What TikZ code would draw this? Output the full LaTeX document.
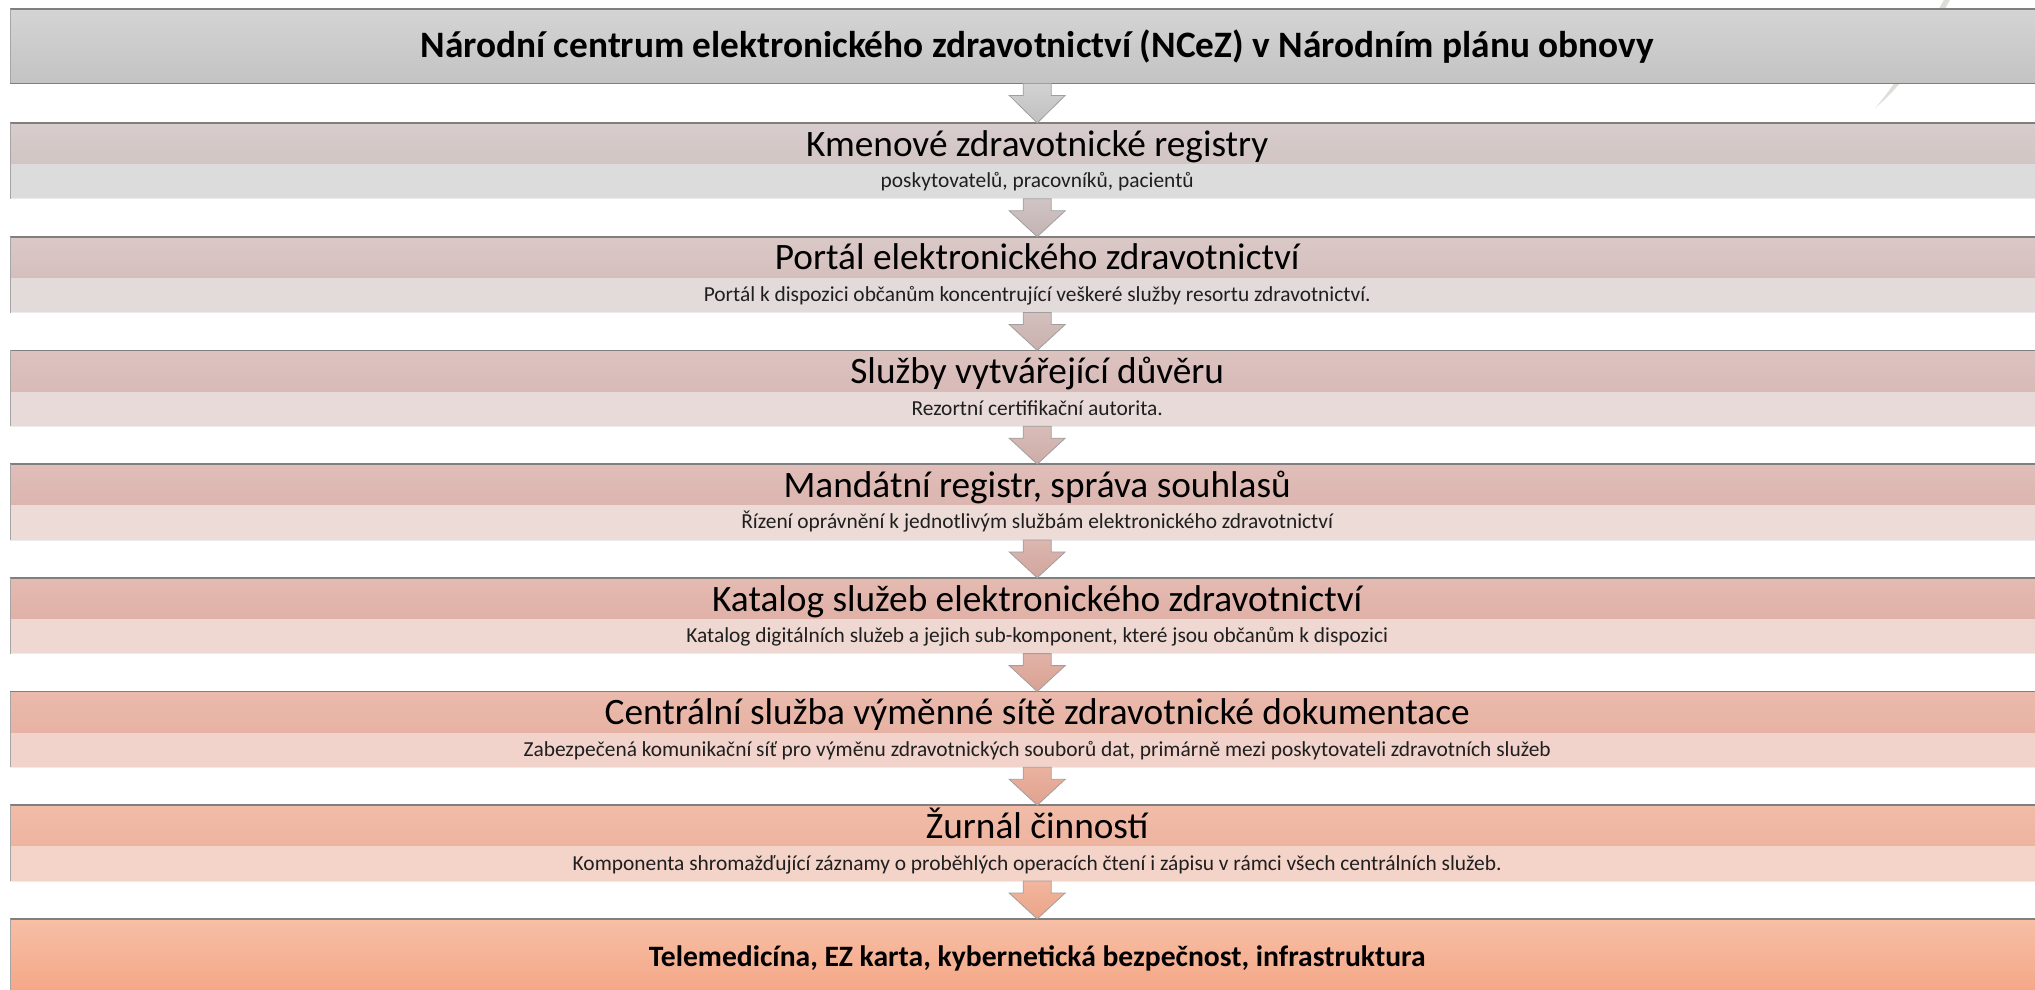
\documentclass[tikz,border=0pt]{standalone}
\usepackage{fontspec}
\setmainfont{Carlito}
\usetikzlibrary{calc}
\definecolor{bordc}{HTML}{7F7F7F}
\definecolor{wmark}{HTML}{DEDED8}
\tikzset{
  band/.style={rectangle, inner sep=0pt, minimum width=2054pt, anchor=north west},
  ttl/.style={band, minimum height=74pt, font=\bfseries\fontsize{37.3}{42}\selectfont},
  hdr/.style={band, minimum height=40.5pt, text height=28pt, text depth=2.5pt, font=\fontsize{37.3}{40}\selectfont},
  subrow/.style={band, minimum height=34.5pt, text height=15pt, text depth=2pt, font=\fontsize{21.4}{24}\selectfont, text=black!88},
  endbox/.style={band, minimum height=78pt, font=\bfseries\fontsize{29.6}{34}\selectfont},
  topline/.style={draw=bordc, line width=1.6pt},
  sideline/.style={draw=bordc!70, line width=1pt},
  botline/.style={draw=white!85!bordc, line width=0.8pt},
  blk/.style={draw=gray!75, line width=0.8pt},
}
\newcommand\blkarrow[3]{%
  \path[blk,#3] ($(#1.south)+(-14,0)$) -- ($(#1.south)+(14,0)$) -- ($(#1.south)+(14,12)$)
    -- ($(#1.south)+(28,12)$) -- (#2.north) -- ($(#1.south)+(-28,12)$)
    -- ($(#1.south)+(-14,12)$) -- cycle;}
\begin{document}
\begin{tikzpicture}[x=1pt,y=-1pt]
\useasboundingbox (0,0) rectangle (2035,989);
\clip (0,0) rectangle (2035,989);
% watermark stroke
\fill[wmark] (1945,-2) -- (1951,-2) .. controls (1930,35) and (1915,75) .. (1875,108)
   .. controls (1900,80) and (1922,38) .. (1945,-2) -- cycle;
% title
\node[ttl, top color={rgb,255:red,212;green,212;blue,212}, bottom color={rgb,255:red,195;green,195;blue,195}] (title) at (10,9)
  {Národní centrum elektronického zdravotnictví (NCeZ) v Národním plánu obnovy};
\draw[topline] (title.north west) -- (title.north east);
\draw[topline] (title.south west) -- (title.south east);
\draw[sideline] (title.north west) -- (title.south west);
% boxes
\def\mkbox#1#2#3#4#5#6#7{%
  \node[hdr, top color={rgb,255:#3}, bottom color={rgb,255:#4}] (h#1) at (10,#2) {#6};
  \node[subrow, fill={rgb,255:#5}] (s#1) at (h#1.south west) {#7};
  \draw[botline] (s#1.south west) -- (s#1.south east);
  \draw[topline] (h#1.north west) -- (h#1.north east);
  \draw[sideline] (h#1.north west) -- (s#1.south west);
}
\mkbox{1}{123}{red,215;green,205;blue,204}{red,210;green,197;blue,196}{red,220;green,220;blue,220}
  {Kmenové zdravotnické registry}{poskytovatelů, pracovníků, pacientů}
\mkbox{2}{236.7}{red,218;green,201;blue,199}{red,213;green,191;blue,189}{red,227;green,219;blue,218}
  {Portál elektronického zdravotnictví}{Portál k dispozici občanům koncentrující veškeré služby resortu zdravotnictví.}
\mkbox{3}{350.4}{red,220;green,195;blue,192}{red,216;green,186;blue,183}{red,232;green,218;blue,217}
  {Služby vytvářející důvěru}{Rezortní certifikační autorita.}
\mkbox{4}{464.1}{red,224;green,190;blue,185}{red,220;green,181;blue,175}{red,237;green,219;blue,215}
  {Mandátní registr, správa souhlasů}{Řízení oprávnění k jednotlivým službám elektronického zdravotnictví}
\mkbox{5}{577.8}{red,228;green,186;blue,177}{red,224;green,177;blue,167}{red,240;green,216;blue,210}
  {Katalog služeb elektronického zdravotnictví}{Katalog digitálních služeb a jejich sub-komponent, které jsou občanům k dispozici}
\mkbox{6}{691.5}{red,234;green,186;blue,172}{red,231;green,178;blue,163}{red,242;green,211;blue,203}
  {Centrální služba výměnné sítě zdravotnické dokumentace}{Zabezpečená komunikační síť pro výměnu zdravotnických souborů dat, primárně mezi poskytovateli zdravotních služeb}
\mkbox{7}{805.2}{red,241;green,188;blue,168}{red,238;green,180;blue,160}{red,244;green,211;blue,200}
  {Žurnál činností}{Komponenta shromažďující záznamy o proběhlých operacích čtení i zápisu v rámci všech centrálních služeb.}
% end box
\node[endbox, top color={rgb,255:red,246;green,191;blue,166}, bottom color={rgb,255:red,245;green,165;blue,132}] (endb) at (10,918.9)
  {Telemedicína, EZ karta, kybernetická bezpečnost, infrastruktura};
\draw[topline] (endb.north west) -- (endb.north east);
\draw[sideline] (endb.north west) -- (endb.south west);
% arrows
\blkarrow{title}{h1}{top color={rgb,255:red,210;green,210;blue,210}, bottom color={rgb,255:red,192;green,192;blue,192}}
\blkarrow{s1}{h2}{top color={rgb,255:red,208;green,196;blue,196}, bottom color={rgb,255:red,196;green,180;blue,180}}
\blkarrow{s2}{h3}{top color={rgb,255:red,212;green,192;blue,190}, bottom color={rgb,255:red,200;green,176;blue,174}}
\blkarrow{s3}{h4}{top color={rgb,255:red,216;green,188;blue,184}, bottom color={rgb,255:red,205;green,172;blue,167}}
\blkarrow{s4}{h5}{top color={rgb,255:red,220;green,182;blue,175}, bottom color={rgb,255:red,210;green,166;blue,158}}
\blkarrow{s5}{h6}{top color={rgb,255:red,226;green,178;blue,166}, bottom color={rgb,255:red,216;green,162;blue,148}}
\blkarrow{s6}{h7}{top color={rgb,255:red,234;green,178;blue,160}, bottom color={rgb,255:red,225;green,162;blue,142}}
\blkarrow{s7}{endb}{top color={rgb,255:red,242;green,182;blue,158}, bottom color={rgb,255:red,234;green,164;blue,136}}
\end{tikzpicture}
\end{document}
